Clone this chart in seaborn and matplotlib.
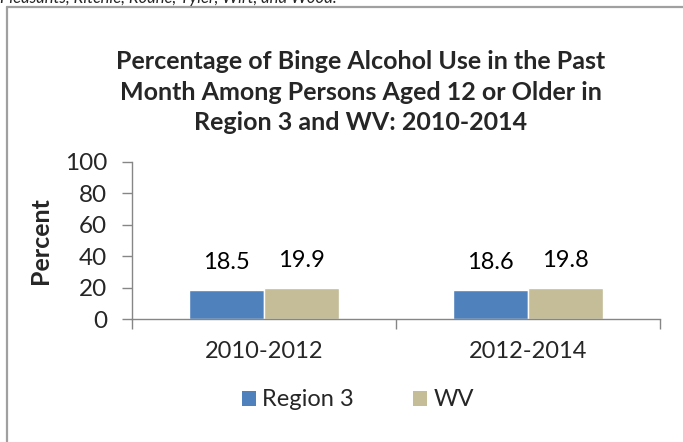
import matplotlib
matplotlib.use("Agg")
import matplotlib.pyplot as plt
import seaborn as sns
import pandas as pd
from matplotlib.patches import Rectangle
from matplotlib.lines import Line2D

periods = ["2010-2012", "2012-2014"]
series = ["Region 3", "WV"]
region3 = [18.5, 18.6]
wv = [19.9, 19.8]
colors = ["#4F81BD", "#C4BD97"]
yticks = [0, 20, 40, 60, 80, 100]

df = pd.DataFrame({
    "period": periods * 2,
    "series": [series[0]] * 2 + [series[1]] * 2,
    "value": region3 + wv,
})

sns.set_theme(style="white")
plt.rcParams["font.family"] = ["Lato", "DejaVu Sans"]

fig = plt.figure(figsize=(6.83, 4.42), dpi=100)
ax = fig.add_axes([132/683, 1-319/442, 528/683, 157/442])

sns.barplot(data=df, x="period", y="value", hue="series", palette=colors,
            width=0.57, saturation=1, gap=0, ax=ax, legend=False)

for c in ax.containers:
    ax.bar_label(c, fmt="%.1f", padding=12, fontsize=17, color="black")

ax.set_ylim(0, 100)
ax.set_xlim(-0.5, 1.5)
ax.set_yticks(yticks)
ax.set_yticklabels([str(v) for v in yticks], fontsize=17.5)
ax.tick_params(axis="y", length=7, width=1, color="#868686", direction="out", pad=11, left=True)
ax.set_xticks([0, 1])
ax.set_xticklabels(periods, fontsize=17)
ax.tick_params(axis="x", which="major", length=0, pad=16)
ax.set_xticks([-0.5, 0.5, 1.5], minor=True)
ax.tick_params(axis="x", which="minor", length=7, width=1, color="#868686", direction="out", bottom=True)
ax.set_xlabel("")
ax.set_ylabel("Percent", fontsize=18, fontweight="bold")
ax.yaxis.set_label_coords(-0.152, 0.5)
for s in ["top", "right"]:
    ax.spines[s].set_visible(False)
for s in ["left", "bottom"]:
    ax.spines[s].set_color("#868686")
    ax.spines[s].set_linewidth(1)
ax.grid(False)

fig.text(361/683, 1-92/442,
         "Percentage of Binge Alcohol Use in the Past\nMonth Among Persons Aged 12 or Older in\nRegion 3 and WV: 2010-2014",
         ha="center", va="center", fontsize=18, fontweight="bold", linespacing=1.38)

fig.text(0.0, 1-3/442, "Pleasants, Ritchie, Roane, Tyler, Wirt, and Wood.",
         ha="left", va="baseline", fontsize=12, fontstyle="italic")

# chart border (left and top visible)
fig.add_artist(Line2D([6.5/683, 6.5/683], [0, 1-7/442], transform=fig.transFigure,
                      color="#A0A0A0", linewidth=1.6))
fig.add_artist(Line2D([6.5/683, 1.0], [1-7/442, 1-7/442], transform=fig.transFigure,
                      color="#A0A0A0", linewidth=1.6))

handles = [Rectangle((0, 0), 1, 1, facecolor=c, edgecolor="none") for c in colors]
fig.legend(handles, series, loc="center", bbox_to_anchor=(358/683, 1-400/442),
           ncol=2, frameon=False, fontsize=17, handlelength=0.6, handleheight=0.6,
           columnspacing=2.5, handletextpad=0.25)

fig.savefig("out.png", dpi=100)
